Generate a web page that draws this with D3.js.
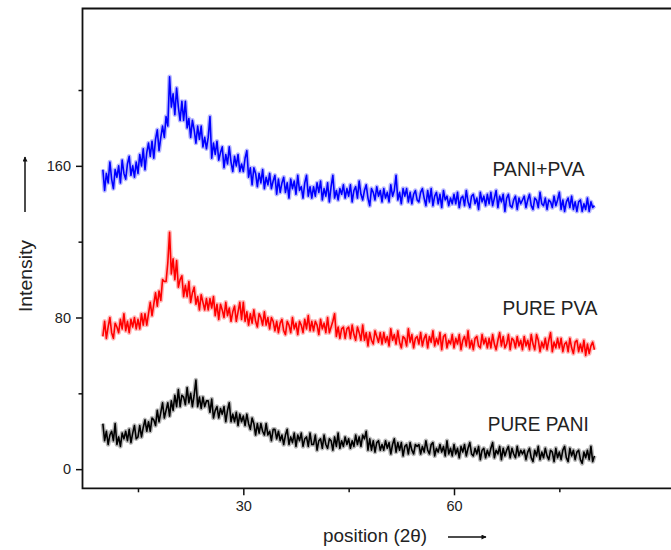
<!doctype html>
<html lang="en">
<head>
	<meta charset="UTF-8">
	<title>XRD patterns PANI / PVA</title>
	<style>
		body { margin: 0; background: #fff; }
		svg { display: block; font-family: Arial, "Liberation Sans", sans-serif; }
		.frame { fill: none; stroke: #111; stroke-width: 1.8; }
		.axis path { display: none; }
		.axis line { stroke: #111; stroke-width: 1.5; }
		.axis text { fill: #222; font-size: 14.5px; }
		.series__label { fill: #222; font-size: 21px; }
		.axis__title { fill: #222; font-size: 19px; }
	</style>
</head>
<body>
	<script src="https://cdn.jsdelivr.net/npm/d3@7"></script>
	<script>
		// sampling grid: 10 .. 80 deg, every 0.25 deg
		var thetaStart = 10,
			thetaStep = 0.25;

		var paniPva = [
			158,147,156,151,162,153,148,158,154,160,151,163,156,153,161,165,155,160,154,162,
			156,166,160,169,158,167,172,165,173,164,174,179,168,175,181,175,186,181,207,191,
			198,187,201,191,184,194,184,194,180,185,175,184,179,172,181,174,181,170,175,169,
			175,186,164,172,166,173,163,167,170,159,166,161,170,162,157,165,160,166,157,161,
			157,164,168,154,159,150,159,156,149,156,151,158,148,154,150,156,148,152,155,145,
			153,146,151,154,146,151,143,153,148,152,145,155,147,149,143,151,155,144,149,143,
			149,144,151,146,152,142,148,144,151,141,149,155,143,147,142,148,145,150,143,148,
			144,150,141,147,149,143,152,145,142,147,150,143,139,148,146,142,149,144,147,141,
			148,143,146,141,150,144,147,155,142,146,140,148,144,148,141,146,140,145,147,142,
			141,146,148,143,139,147,141,148,139,144,146,140,145,138,147,142,144,139,143,140,
			145,140,146,138,143,144,139,147,141,138,144,145,140,143,137,146,141,144,139,145,
			140,146,139,143,147,138,144,141,145,136,143,145,139,138,142,144,137,143,140,142,
			144,138,142,145,139,137,143,142,138,146,140,139,143,137,142,141,138,144,139,142,
			146,137,142,136,141,143,138,144,137,141,136,141,142,136,140,137,143,136,141,138,
			139
		];

		var purePva = [
			70,78,69,75,80,72,69,77,75,72,79,74,82,73,78,72,79,75,80,74,
			79,74,82,76,82,76,82,88,81,87,93,86,94,89,100,99,99,109,125,103,
			111,100,110,96,100,102,91,97,91,99,88,93,96,87,91,84,92,88,84,90,
			84,90,85,91,81,87,79,87,84,80,88,81,85,78,83,86,78,83,88,79,
			88,78,83,76,82,77,84,78,75,82,80,76,83,76,80,74,80,78,73,78,
			72,77,79,73,71,78,76,72,80,74,77,71,78,76,72,79,74,81,73,78,
			73,78,76,71,79,74,77,72,80,72,75,78,82,70,75,69,74,75,69,74,
			75,69,76,71,68,75,72,68,76,68,72,65,72,68,66,73,70,67,72,66,
			72,67,70,65,74,68,71,66,73,67,64,70,69,65,74,67,71,64,69,70,
			66,72,65,69,71,64,70,67,73,65,69,66,72,63,70,71,64,68,66,71,
			64,69,66,71,63,68,70,65,73,64,68,63,69,70,65,64,71,66,69,64,
			69,64,71,66,63,68,72,65,70,64,66,71,63,69,68,64,70,65,68,63,
			70,65,68,63,71,66,63,71,68,62,67,64,69,63,68,72,62,67,64,69,
			64,69,62,66,67,62,69,64,61,67,68,62,66,62,68,60,66,61,65,67,
			63
		];

		var purePani = [
			24,15,20,13,18,20,15,24,13,17,12,19,16,20,15,21,14,19,23,16,
			17,23,17,22,26,20,25,20,27,26,23,31,25,30,35,27,31,35,28,36,
			31,39,33,42,33,39,38,34,43,35,40,33,39,47,33,38,32,38,33,36,
			36,30,37,27,31,33,27,32,29,33,25,31,35,25,29,25,30,23,29,25,
			28,23,29,24,21,27,24,18,24,19,24,20,18,24,18,20,15,21,21,16,
			20,15,18,13,18,21,13,17,14,19,12,18,15,19,12,16,17,12,19,13,
			13,18,10,15,16,11,18,13,11,16,15,10,17,12,19,11,15,12,17,13,
			16,11,15,12,18,13,17,12,18,16,20,10,16,10,15,9,14,15,10,13,
			10,15,11,14,8,13,16,9,14,10,14,7,12,13,8,14,10,8,13,12,
			13,8,12,9,15,10,8,13,14,7,11,9,13,9,12,7,15,8,11,7,
			13,8,11,6,12,9,13,7,11,14,8,7,11,8,12,5,10,11,6,10,
			7,11,14,6,10,8,12,5,11,7,10,12,6,11,8,6,12,7,10,8,
			10,5,9,11,6,4,10,7,12,5,9,6,11,7,5,10,9,4,11,6,
			9,5,10,12,6,4,11,7,10,5,9,10,5,3,9,6,10,5,12,4,
			7
		];

		var seriesNames = ['PANI+PVA', 'PURE PVA', 'PURE PANI'],
			seriesColors = ['#0000ff', '#ff0000', '#000000'],
			seriesValues = [paniPva, purePva, purePani],
			// where each name sits (theta, intensity at baseline) and its width
			labelTheta = [65.5, 66.9, 64.8],
			labelIntensity = [154.5, 81.5, 20.3],
			labelWidth = [92, 95, 101];

		var yMajorTicks = [0, 80, 160],
			yMinorTicks = [40, 120, 200],
			xMajorTicks = [30, 60],
			xMinorTicks = [15, 45, 75];

		var w = 671,
			h = 550;

		var svg = d3.select('body')
			.append('svg')
			.attr('width', w)
			.attr('height', h);

		var xScale = d3.scaleLinear()
			.domain([7.1, 90.9])
			.range([82.5, 671]);

		var yScale = d3.scaleLinear()
			.domain([-10.1, 243])
			.range([488.3, 8.5]);

		/**
		* turn one value array into [theta, intensity] pairs
		*/
		var toPoints = function(values) {
			return values.map(function(v, i) {
				return [thetaStart + i*thetaStep, v];
			});
		};

		var line = d3.line()
			.x(function(d) { return xScale(d[0]); })
			.y(function(d) { return yScale(d[1]); });

		// frame: left, top, bottom (right side runs off the picture)
		svg.append('path')
			.attr('class', 'frame')
			.attr('d', 'M' + w + ',' + yScale.range()[1] +
				'H' + xScale.range()[0] +
				'V' + yScale.range()[0] +
				'H' + w);

		// axes
		svg.append('g')
			.attr('class', 'axis')
			.attr('transform', 'translate(' + xScale.range()[0] + ',0)')
			.call(d3.axisLeft(yScale).tickValues(yMajorTicks).tickSize(6.5).tickPadding(5));

		svg.append('g')
			.attr('class', 'axis')
			.attr('transform', 'translate(' + xScale.range()[0] + ',0)')
			.call(d3.axisLeft(yScale).tickValues(yMinorTicks).tickSize(4).tickFormat(''));

		svg.append('g')
			.attr('class', 'axis')
			.attr('transform', 'translate(0,' + yScale.range()[0] + ')')
			.call(d3.axisBottom(xScale).tickValues(xMajorTicks).tickSize(7).tickPadding(5));

		svg.append('g')
			.attr('class', 'axis')
			.attr('transform', 'translate(0,' + yScale.range()[0] + ')')
			.call(d3.axisBottom(xScale).tickValues(xMinorTicks).tickSize(4).tickFormat(''));

		// series: soft halo underneath, then the trace
		seriesValues.forEach(function(values, i) {
			var pts = toPoints(values);
			svg.append('path')
				.attr('d', line(pts))
				.attr('fill', 'none')
				.attr('stroke', seriesColors[i])
				.attr('stroke-opacity', 0.28)
				.attr('stroke-width', 4.5)
				.attr('stroke-linejoin', 'round');
			svg.append('path')
				.attr('d', line(pts))
				.attr('fill', 'none')
				.attr('stroke', seriesColors[i])
				.attr('stroke-width', 1.6)
				.attr('stroke-linejoin', 'round');
		});

		// series names
		svg.selectAll('text.series__label')
			.data(seriesNames)
			.enter()
			.append('text')
			.attr('class', 'series__label')
			.attr('x', function(d, i) { return xScale(labelTheta[i]); })
			.attr('y', function(d, i) { return yScale(labelIntensity[i]); })
			.attr('textLength', function(d, i) { return labelWidth[i]; })
			.attr('lengthAdjust', 'spacingAndGlyphs')
			.text(function(d) { return d; });

		// axis titles with arrows
		svg.append('defs').append('marker')
			.attr('id', 'arrow')
			.attr('viewBox', '0 0 10 10')
			.attr('refX', 9)
			.attr('refY', 5)
			.attr('markerWidth', 8)
			.attr('markerHeight', 5)
			.attr('markerUnits', 'userSpaceOnUse')
			.attr('orient', 'auto')
			.append('path')
			.attr('d', 'M0,0L10,5L0,10Z')
			.attr('fill', '#111');

		svg.append('text')
			.attr('class', 'axis__title')
			.attr('x', 323)
			.attr('y', 542)
			.attr('textLength', 104)
			.attr('lengthAdjust', 'spacingAndGlyphs')
			.text('position (2\u03b8)');

		svg.append('line')
			.attr('x1', 448).attr('y1', 537)
			.attr('x2', 486).attr('y2', 537)
			.attr('stroke', '#111')
			.attr('stroke-width', 1.5)
			.attr('marker-end', 'url(#arrow)');

		svg.append('text')
			.attr('class', 'axis__title')
			.attr('transform', 'translate(32,312) rotate(-90)')
			.attr('textLength', 72)
			.attr('lengthAdjust', 'spacingAndGlyphs')
			.text('Intensity');

		svg.append('line')
			.attr('x1', 25).attr('y1', 212)
			.attr('x2', 25).attr('y2', 157)
			.attr('stroke', '#111')
			.attr('stroke-width', 1.5)
			.attr('marker-end', 'url(#arrow)');
	</script>
</body>
</html>
